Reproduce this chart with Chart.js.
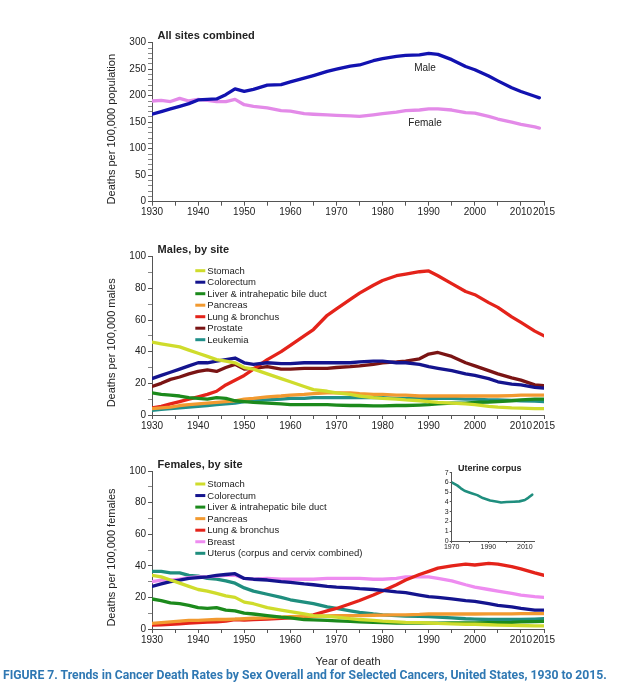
<!DOCTYPE html>
<html>
<head>
<meta charset="utf-8">
<script src="https://cdn.jsdelivr.net/npm/chart.js@4.4.1/dist/chart.umd.min.js"></script>
<style>
  html, body { margin: 0; padding: 0; background: #fff; }
  body { width: 628px; height: 682px; position: relative; overflow: hidden; }
  .panel { position: absolute; }
  #caption {
    position: absolute; left: 3px; top: 667px;
    font: 700 12.5px Roboto, "Liberation Sans", sans-serif;
    color: #2f78b3; white-space: nowrap; transform-origin: 0 50%;
  }
</style>
</head>
<body>
<div class="panel" style="left:100px;top:20px;width:460px;height:210px"><canvas id="allSites"></canvas></div>
<div class="panel" style="left:100px;top:235px;width:460px;height:210px"><canvas id="males"></canvas></div>
<div class="panel" style="left:100px;top:450px;width:460px;height:225px"><canvas id="females"></canvas></div>
<div class="panel" style="left:420px;top:455px;width:125px;height:100px"><canvas id="corpus"></canvas></div>
<div id="caption">FIGURE 7. Trends in Cancer Death Rates by Sex Overall and for Selected Cancers, United States, 1930 to 2015.</div>

<script>
const years = [1930,1932,1934,1936,1938,1940,1942,1944,1946,1948,1950,1952,1955,1958,1960,1963,1965,1968,1970,1973,
  1975,1978,1980,1983,1985,1988,1990,1992,1995,1998,2000,2003,2005,2008,2010,2013,2015];
const topYears = [1930,1932,1934,1936,1938,1940,1942,1944,1946,1948,1950,1952,1955,1958,1960,1963,1965,1968,1970,1973,
  1975,1978,1980,1983,1985,1988,1990,1992,1995,1998,2000,2003,2005,2008,2010,2013,2014];

// All sites combined
const allMale = [165,170,175,180,185,192,193,194,202,213,208,212,220,221,226,233,238,246,250,256,
  258,266,270,274,276,277,280,278,268,255,249,237,228,215,208,199,196];
const allFemale = [190,191,189,195,190,193,191,189,189,193,183,180,177,172,171,166,165,164,163,162,
  161,164,166,169,172,173,175,175,173,168,167,161,156,150,146,141,139];

// Males, by site
const mStomach = [46,45,44,43,41,39,37,35,34,33,30,29,26,23,21,18,16,15,14,13,
  12,11,10.5,10,9.5,9,8.5,8,7.5,7,6.5,5.5,5,4.5,4.3,4,4];
const mColorectum = [23,25,27,29,31,33,33,34,35,36,33,32,33,32.5,32.5,33,33,33,33,33,
  33.5,34,34,33,33,32,30.5,29.5,28,26,25,23,21,19.5,19,17.5,17];
const mLiver = [14,13,12.5,12,11,10.5,10,11,10.5,9,8.5,8,7.5,7,6.5,6.5,6.5,6.5,6.3,6,
  6,5.8,5.8,6,6,6.3,6.5,7,7.5,7.5,8,8.2,8.5,9,9.5,10,10];
const mPancreas = [4,4.5,5,6,6.5,7,7.5,8,8.5,9,10,10.5,11.5,12,12.5,13,13.5,14,14,14,
  13.5,13,13,12.5,12.5,12,12,12,12,12,12,12,12,12.3,12.5,12.5,12.5];
const mLung = [4.5,5.5,7,8.5,10,11.5,13,15,19,22,25,29,35,40,44,50,54,63,67,73,
  77,82,85,88,89,90.5,91,88,83,78,76,71,68,62,58.5,53,50];
const mProstate = [18,20,22.5,24,26,27.5,28.5,27.5,30,32,29,29.5,30.5,29,29,29.5,29.5,29.5,30,30.5,
  31,32,33,33.5,34,35.5,38.5,39.5,37,33,31,28,26,23.5,22,19,18.5];
const mLeukemia = [3,3.5,4,4.5,5,5.5,6,6.5,7,7.5,8.5,9,9.5,10,10.5,10.5,11,11,11,11,
  11,11,11,10.5,10.5,10.5,10.5,10.5,10.5,10,10,9.5,9.5,9.3,9,8.8,8.5];

// Females, by site
const fStomach = [34,33,31,29,27,25,24,22.5,21,20,17,16,13.5,12,11,9.5,8.5,8,7.5,6.5,
  6,5.5,5,4.5,4.2,4,3.8,3.5,3.3,3,3,2.7,2.5,2.3,2.2,2,2];
const fColorectum = [27,28.5,30,31,32,32.5,33,34,34.5,35,32,31.5,31,30,29.5,28.5,28,27,26.5,26,
  25.5,25,24.5,23.5,23,21.5,20.5,20,19,18,17.5,16,15,14,13,12,12];
const fLiver = [19,18,16.5,16,15,13.5,13,13.5,12,11.5,10,9.5,8.5,7.5,7,6,5.8,5.5,5.2,4.8,
  4.5,4.2,4,3.8,3.8,3.7,3.7,3.7,3.8,3.8,3.8,4,4,4.2,4.5,4.7,4.8];
const fPancreas = [3.5,4,4.5,5,5.5,5.5,5.8,6,6,6.3,6.5,6.8,7,7.5,7.8,8,8,8.3,8.5,8.5,
  8.5,8.7,8.8,9,9,9.2,9.5,9.5,9.5,9.5,9.5,9.6,9.6,9.6,9.7,9.7,9.7];
const fLung = [2.5,2.7,3,3.3,3.7,4,4.3,4.6,5,6,5.7,6,6.3,6.7,7,7.7,9,11.5,13,16,
  18,21.5,24,28,31,34.5,36.5,38.5,40,41,40.5,41.5,41,39.5,38,35.5,34];
const fBreast = [30,31,31,31.5,32.5,33,33,33.5,34,34,32,31.5,32,31.5,31.5,31.5,31.5,32,32,32,
  32,31.5,31.5,32,33,33,33,32,30.5,28,26.5,25,24,22.5,21.5,20.5,20];
const fUterus = [36.5,36.5,35.5,35.5,34,33.5,32,31.5,30.5,29,26,24,22,20,18.5,17,16,14,13,11.5,
  10.5,9.5,9,8.5,8.2,8,7.8,7.5,7,6.5,6.3,6,6,6,6,6.3,6.5];

// Inset: uterine corpus
const corpusYears = [1970,1973,1975,1977,1980,1984,1987,1991,1995,1997,2000,2004,2007,2010,2012,2014];
const corpusRates = [6.0,5.7,5.4,5.15,4.95,4.7,4.4,4.15,4.03,3.95,4.0,4.03,4.06,4.2,4.45,4.75];
const corpusTicks = [1970,1980,1990,2000,2010];

const FONT = '"Liberation Sans", Arial, sans-serif';
const INK = '#222';
const AXIS = '#555';

function pts(xs, ys) {
  return ys.map((v, i) => ({ x: xs[i], y: v }));
}

function line(label, xs, ys, color, width) {
  return {
    label: label, data: pts(xs, ys), borderColor: color, backgroundColor: color,
    borderWidth: width || 3.3, pointRadius: 0, tension: 0, fill: false,
    borderCapStyle: 'round', borderJoinStyle: 'round'
  };
}

// panel labels, y titles, in-plot notes and a hand-placed legend
const notesPlugin = {
  id: 'notes',
  afterDraw(chart, args, opts) {
    const ctx = chart.ctx;
    const area = chart.chartArea;
    ctx.save();
    ctx.textBaseline = 'middle';
    (opts.items || []).forEach(it => {
      ctx.font = it.font;
      ctx.fillStyle = INK;
      ctx.textAlign = it.align || 'left';
      let x, y;
      if (it.year !== undefined) {
        x = chart.scales.x.getPixelForValue(it.year);
        y = chart.scales.y.getPixelForValue(it.value);
      } else {
        x = area.left + it.dx;
        y = area.top + it.dy;
      }
      ctx.fillText(it.text, x, y);
    });
    if (opts.yTitle) {
      ctx.save();
      ctx.translate(opts.yTitle.x, (area.top + area.bottom) / 2 + opts.yTitle.shift);
      ctx.rotate(-Math.PI / 2);
      ctx.textAlign = 'center';
      ctx.font = '11px ' + FONT;
      ctx.fillStyle = INK;
      ctx.fillText(opts.yTitle.text, 0, 0);
      ctx.restore();
    }
    const lg = opts.legend;
    if (lg) {
      chart.data.datasets.forEach((ds, i) => {
        const x = area.left + lg.dx;
        const y = area.top + lg.dy + i * lg.step;
        ctx.strokeStyle = ds.borderColor;
        ctx.lineWidth = 3;
        ctx.lineCap = 'butt';
        ctx.beginPath();
        ctx.moveTo(x, y);
        ctx.lineTo(x + 10, y);
        ctx.stroke();
        ctx.fillStyle = INK;
        ctx.font = '9.5px ' + FONT;
        ctx.textAlign = 'left';
        ctx.fillText(ds.label, x + 12, y + 0.5);
      });
    }
    ctx.restore();
  }
};

function xScale(height, title) {
  return {
    type: 'linear', min: 1930, max: 2015,
    afterFit(s) { s.height = height; },
    border: { display: true, color: AXIS, width: 1 },
    grid: { display: true, drawOnChartArea: false, drawTicks: true, tickLength: 4, tickColor: AXIS },
    ticks: {
      stepSize: 5, autoSkip: false, maxRotation: 0, padding: 1,
      font: { family: FONT, size: 10 }, color: INK,
      callback: v => (v % 10 === 0 || v === 2015) ? String(v) : ''
    },
    title: title ? { display: true, text: title, color: INK, font: { family: FONT, size: 11 }, padding: { top: 0, bottom: 6.4 } }
                 : { display: false }
  };
}

function yScale(max, major, minor) {
  return {
    type: 'linear', min: 0, max: max,
    afterFit(s) { s.width = 52; },
    border: { display: true, color: AXIS, width: 1 },
    grid: {
      display: true, drawOnChartArea: false, drawTicks: true, tickLength: 4, tickColor: AXIS,
      tickWidth: c => (c.tick && c.tick.value % major === 0) ? 1 : 0.7
    },
    ticks: {
      stepSize: minor, autoSkip: false, padding: 2,
      font: { family: FONT, size: 10 }, color: INK,
      callback: v => v % major === 0 ? String(v) : ''
    }
  };
}

function baseOptions(pad, xs, ys, notes) {
  return {
    responsive: true, maintainAspectRatio: false, animation: false,
    layout: { padding: pad },
    plugins: { legend: { display: false }, tooltip: { enabled: false }, notes: notes },
    scales: { x: xs, y: ys }
  };
}

// 1. All sites combined
new Chart(document.getElementById('allSites'), {
  type: 'line',
  data: { datasets: [
    line('Male', topYears, allMale, '#1212b0'),
    line('Female', topYears, allFemale, '#e38ae8')
  ] },
  options: baseOptions({ top: 22.7, right: 16, left: 0, bottom: 0 },
    xScale(28.3), yScale(300, 50, 10),
    { yTitle: { text: 'Deaths per 100,000 population', x: 11.7, shift: 7 },
      items: [
      { text: 'All sites combined', dx: 5.6, dy: -7, font: 'bold 11px ' + FONT },
      { text: 'Male', year: 1989.2, value: 251, align: 'center', font: '10px ' + FONT },
      { text: 'Female', year: 1989.2, value: 148, align: 'center', font: '10px ' + FONT }
    ] }),
  plugins: [notesPlugin]
});

// 2. Males, by site
new Chart(document.getElementById('males'), {
  type: 'line',
  data: { datasets: [
    line('Stomach', years, mStomach, '#cfdc2c'),
    line('Colorectum', years, mColorectum, '#14148e'),
    line('Liver & intrahepatic bile duct', years, mLiver, '#1c8a1c'),
    line('Pancreas', years, mPancreas, '#f29a30'),
    line('Lung & bronchus', years, mLung, '#e4231a'),
    line('Prostate', years, mProstate, '#7a1414'),
    line('Leukemia', years, mLeukemia, '#21908a')
  ] },
  options: baseOptions({ top: 21.7, right: 16, left: 0, bottom: 0 },
    xScale(30), yScale(100, 20, 10),
    { yTitle: { text: 'Deaths per 100,000 males', x: 11.7, shift: 7 },
      items: [
      { text: 'Males, by site', dx: 5.6, dy: -6.7, font: 'bold 11px ' + FONT }
    ], legend: { dx: 43.3, dy: 14, step: 11.5 } }),
  plugins: [notesPlugin]
});

// 3. Females, by site
new Chart(document.getElementById('females'), {
  type: 'line',
  data: { datasets: [
    line('Stomach', years, fStomach, '#cfdc2c'),
    line('Colorectum', years, fColorectum, '#14148e'),
    line('Liver & intrahepatic bile duct', years, fLiver, '#1c8a1c'),
    line('Pancreas', years, fPancreas, '#f29a30'),
    line('Lung & bronchus', years, fLung, '#e4231a'),
    line('Breast', years, fBreast, '#ee8cf0'),
    line('Uterus (corpus and cervix combined)', years, fUterus, '#1f8e7e')
  ] },
  options: baseOptions({ top: 21, right: 16, left: 0, bottom: 0 },
    xScale(46, 'Year of death'), yScale(100, 20, 10),
    { yTitle: { text: 'Deaths per 100,000 females', x: 11.7, shift: 7.5 },
      items: [
      { text: 'Females, by site', dx: 5.6, dy: -6, font: 'bold 11px ' + FONT }
    ], legend: { dx: 43.3, dy: 13, step: 11.55 } }),
  plugins: [notesPlugin]
});

// 4. Inset: uterine corpus
new Chart(document.getElementById('corpus'), {
  type: 'line',
  data: { datasets: [ line('Uterine corpus', corpusYears, corpusRates, '#1f8e7e', 2.6) ] },
  options: {
    responsive: true, maintainAspectRatio: false, animation: false,
    layout: { padding: { top: 17.7, right: 11, left: 0, bottom: 0 } },
    plugins: {
      legend: { display: false }, tooltip: { enabled: false },
      notes: { items: [ { text: 'Uterine corpus', dx: 38, dy: -4.5, align: 'center', font: 'bold 9px ' + FONT } ] }
    },
    scales: {
      x: {
        type: 'linear', min: 1970, max: 2015,
        afterFit(s) { s.height = 14; },
        afterBuildTicks(s) { s.ticks = corpusTicks.map(v => ({ value: v })); },
        border: { display: true, color: AXIS, width: 1 },
        grid: { display: true, drawOnChartArea: false, drawTicks: true, tickLength: 2, tickColor: AXIS },
        ticks: { autoSkip: false, maxRotation: 0, padding: 0,
          font: { family: FONT, size: 7 }, color: INK,
          callback: v => (v === 1970 || v === 1990 || v === 2010) ? String(v) : '' }
      },
      y: {
        type: 'linear', min: 0, max: 7,
        afterFit(s) { s.width = 31.7; },
        border: { display: true, color: AXIS, width: 1 },
        grid: { display: true, drawOnChartArea: false, drawTicks: true, tickLength: 2, tickColor: AXIS },
        ticks: { stepSize: 1, autoSkip: false, padding: 1, font: { family: FONT, size: 7 }, color: INK }
      }
    }
  },
  plugins: [notesPlugin]
});

// squeeze the caption into the width it has in the figure
const cap = document.getElementById('caption');
cap.style.transform = 'scaleX(' + (604 / cap.scrollWidth) + ')';
</script>
</body>
</html>
